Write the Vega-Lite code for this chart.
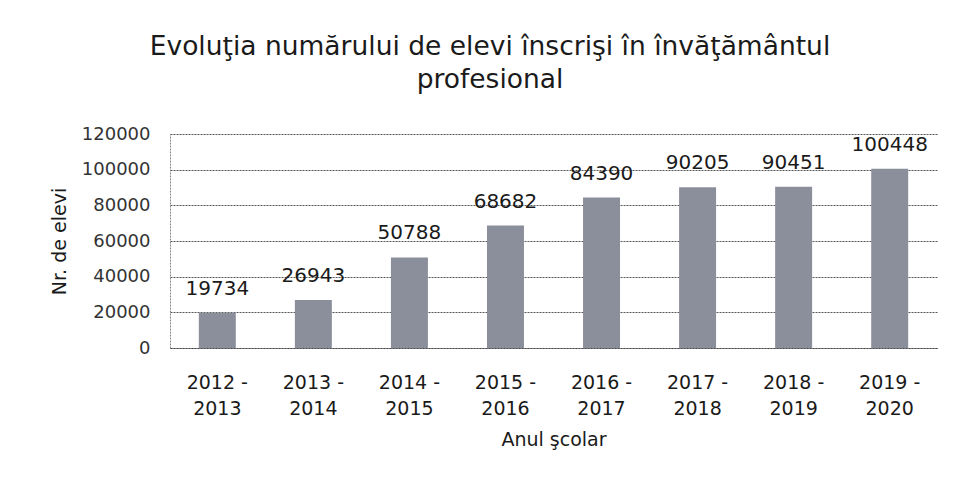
{
  "$schema": "https://vega.github.io/schema/vega-lite/v6.json",
  "width": 767,
  "height": 214,
  "autosize": "none",
  "padding": {"left": 170, "top": 134, "right": 18, "bottom": 134},
  "background": "white",
  "title": {
    "text": ["Evoluţia numărului de elevi înscrişi în învăţământul", "profesional"],
    "anchor": "start",
    "frame": "group",
    "dx": 320,
    "align": "center",
    "offset": 32,
    "fontSize": 26.5,
    "font": "DejaVu Sans",
    "fontWeight": "normal",
    "color": "#1a1a1a",
    "lineHeight": 33
  },
  "data": {
    "values": [
      {"an": "2012 - 2013", "elevi": 19734},
      {"an": "2013 - 2014", "elevi": 26943},
      {"an": "2014 - 2015", "elevi": 50788},
      {"an": "2015 - 2016", "elevi": 68682},
      {"an": "2016 - 2017", "elevi": 84390},
      {"an": "2017 - 2018", "elevi": 90205},
      {"an": "2018 - 2019", "elevi": 90451},
      {"an": "2019 - 2020", "elevi": 100448}
    ]
  },
  "encoding": {
    "x": {
      "field": "an",
      "type": "nominal",
      "sort": null,
      "scale": {"paddingInner": 0.615, "paddingOuter": 0.3},
      "axis": {
        "title": "Anul şcolar",
        "labelAngle": 0,
        "labelExpr": "[split(datum.label, ' - ')[0] + ' -', split(datum.label, ' - ')[1]]",
        "labelLineHeight": 26,
        "labelFontSize": 19,
        "labelFont": "DejaVu Sans",
        "labelColor": "#1a1a1a",
        "labelPadding": 25,
        "titleFontSize": 19,
        "titleFont": "DejaVu Sans",
        "titleFontWeight": "normal",
        "titleColor": "#1a1a1a",
        "titlePadding": 12,
        "ticks": false,
        "domainColor": "#444",
        "domainDash": [2, 1],
        "grid": false
      }
    },
    "y": {
      "field": "elevi",
      "type": "quantitative",
      "scale": {"domain": [0, 120000]},
      "axis": {
        "title": "Nr. de elevi",
        "values": [0, 20000, 40000, 60000, 80000, 100000, 120000],
        "tickCount": 7,
        "format": "d",
        "labelOverlap": false,
        "labelFontSize": 18,
        "labelFont": "DejaVu Sans",
        "labelColor": "#333",
        "labelPadding": 20,
        "titleFontSize": 19,
        "titleFont": "DejaVu Sans",
        "titleFontWeight": "normal",
        "titleColor": "#1a1a1a",
        "titlePadding": 12,
        "ticks": false,
        "domainColor": "#888",
        "domainDash": [2, 1],
        "gridColor": "#555",
        "gridDash": [2, 1],
        "gridWidth": 1
      }
    }
  },
  "layer": [
    {
      "mark": {"type": "bar", "color": "#8b8e9b"}
    },
    {
      "mark": {"type": "text", "baseline": "alphabetic", "dy": -18, "fontSize": 20, "font": "DejaVu Sans", "color": "#1a1a1a"},
      "encoding": {
        "text": {"field": "elevi", "type": "quantitative", "format": "d"}
      }
    }
  ],
  "config": {"view": {"stroke": null}}
}
